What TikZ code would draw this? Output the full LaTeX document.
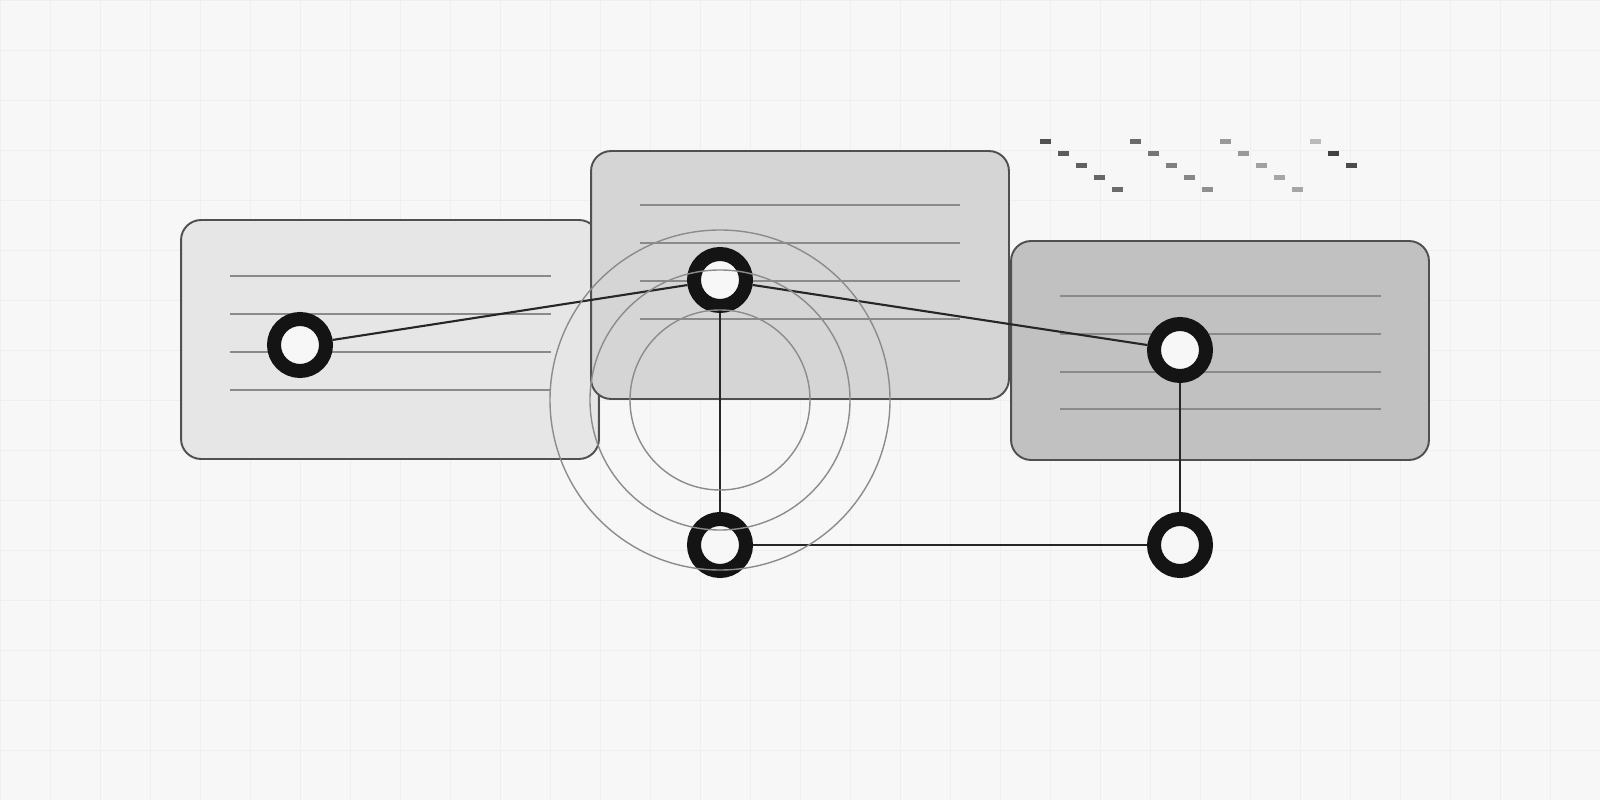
\documentclass[tikz,border=0pt]{standalone}
\usepackage{xcolor}
\usepackage{tikz}
\usetikzlibrary{positioning, calc}

\definecolor{bgpaper}{HTML}{F7F7F7}
\definecolor{gridline}{HTML}{EFEFEF}
\definecolor{cardedge}{HTML}{505050}
\definecolor{cardlight}{HTML}{E6E6E6}
\definecolor{cardmid}{HTML}{D5D5D5}
\definecolor{carddark}{HTML}{C1C1C1}
\definecolor{ruleline}{HTML}{8A8A8A}
\definecolor{ringink}{HTML}{141414}

\begin{document}
\begin{tikzpicture}[
          x=0.02cm, y=-0.02cm,
          card/.style={rectangle, draw=cardedge, line width=1.1pt, rounded corners=0.4cm, minimum width=8.36cm, inner sep=0pt},
          rule/.style={draw=ruleline, line width=1.1pt},
          ring/.style={circle, draw=ringink, fill=bgpaper, line width=0.28cm, minimum size=1.04cm, inner sep=0pt},
          link/.style={draw=black!85, line width=1.2pt},
          pulse/.style={draw=black!45, line width=0.8pt}
        ]
          % Paper and grid
          \fill[bgpaper] (0,0) rectangle (1600,800);
          \useasboundingbox (0,0) rectangle (1600,800);
          \foreach \gx in {0,50,...,1600} \draw[gridline, line width=0.5pt] (\gx,0) -- (\gx,800);
          \foreach \gy in {0,50,...,800} \draw[gridline, line width=0.5pt] (0,\gy) -- (1600,\gy);

          % Cards
          \node[card, fill=cardlight, minimum height=4.78cm] (cardL) at (390,339.5) {};
          \node[card, fill=cardmid, minimum height=4.96cm] (cardM) at (800,275) {};
          \node[card, fill=carddark, minimum height=4.38cm] (cardR) at (1220,350.5) {};

          % Text rules
          \foreach \ry in {276,314,352,390} \draw[rule] (230,\ry) -- (551,\ry);
          \foreach \ry in {205,243,281,319} \draw[rule] (640,\ry) -- (960,\ry);
          \foreach \ry in {296,334,372,409} \draw[rule] (1060,\ry) -- (1381,\ry);

          % Nodes
          \node[ring] (left) at (300,345) {};
          \node[ring] (hub) at (720,280) {};
          \node[ring] (right) at (1180,350) {};
          \node[ring] (base) at (720,545) {};
          \node[ring] (corner) at (1180,545) {};

          % Links
          \draw[link] (left) -- (hub);
          \draw[link] (hub) -- (right);
          \draw[link] (hub) -- (base);
          \draw[link] (base) -- (corner);
          \draw[link] (right) -- (corner);

          % Pulse rings
          \coordinate (pulsecenter) at (720,400);
          \foreach \pr in {90,130,170} \draw[pulse] (pulsecenter) circle[radius=\pr];

          % Loading dashes
          \foreach \dx/\dy/\dk in {1045/142/68,1063/154/64,1081/166/62,1099/178/60,1117/190/58,
                                   1135/142/58,1153/154/54,1171/166/50,1189/178/47,1207/190/44,
                                   1225/142/40,1243/154/40,1261/166/37,1279/178/35,1297/190/35,
                                   1315/142/27,1333/154/74,1351/166/70}
            \fill[black!\dk] (\dx-5.5,\dy-2.5) rectangle (\dx+5.5,\dy+2.5);
        \end{tikzpicture}
\end{document}
